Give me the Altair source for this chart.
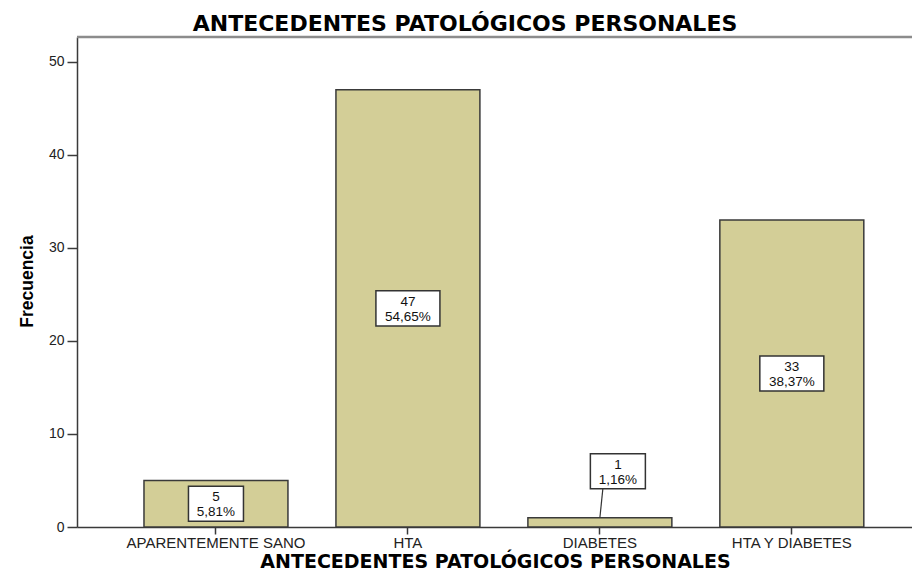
import altair as alt
import pandas as pd

# ---- data ----
categories = ["APARENTEMENTE SANO", "HTA", "DIABETES", "HTA Y DIABETES"]
counts = [5, 47, 1, 33]
y_ticks = [0, 10, 20, 30, 40, 50]
y_max = 52.67
chart_title = "ANTECEDENTES PATOLÓGICOS PERSONALES"
x_title = "ANTECEDENTES PATOLÓGICOS PERSONALES"
y_title = "Frecuencia"

# ---- derived table ----
total = sum(counts)
pct_labels = [f"{c / total * 100:.2f}".replace(".", ",") + "%" for c in counts]
inside = [c >= 4 for c in counts]
label_y = [c / 2 if ins else c + 5 for c, ins in zip(counts, inside)]


def box_path(text):
    hw = (10 + 9 * len(text)) / 64.0
    hh = 35 / 64.0
    return f"M{-hw:.4f},{-hh:.4f}L{hw:.4f},{-hh:.4f}L{hw:.4f},{hh:.4f}L{-hw:.4f},{hh:.4f}Z"


df = pd.DataFrame({
    "cat": categories,
    "count": counts,
    "label": [f"{c}\n{p}" for c, p in zip(counts, pct_labels)],
    "label_y": label_y,
    "inside": inside,
    "path": [box_path(p) for p in pct_labels],
})

W, H = 835, 490

xscale = alt.Scale(domain=categories, paddingInner=0.25, paddingOuter=0.3, align=0.5816)
yscale = alt.Scale(domain=[0, y_max], nice=False, zero=True)

xaxis = alt.Axis(
    title=x_title, labelAngle=0, tickSize=7, labelPadding=1,
    labelFont="Liberation Sans", labelFontSize=15, labelColor="#222222",
    domainColor="#3A3A3A", domainWidth=1.5, tickColor="#3A3A3A", tickWidth=1.5,
    titleFont="DejaVu Sans", titleFontSize=19, titleFontWeight="bold", titleColor="#000000",
    titleX=418, titleY=40, titleAlign="center", titleBaseline="alphabetic", titleAngle=0,
)
yaxis = alt.Axis(
    title=y_title, values=y_ticks, tickSize=10, labelPadding=3, grid=False,
    labelFont="Liberation Sans", labelFontSize=14, labelColor="#222222",
    domainColor="#3A3A3A", domainWidth=1.5, tickColor="#3A3A3A", tickWidth=1.5,
    titleFont="Liberation Sans", titleFontSize=17.5, titleFontWeight="bold", titleColor="#000000",
    titleX=-45, titleY=244, titleAngle=-90, titleAlign="center", titleBaseline="alphabetic",
)

X = alt.X("cat:N", sort=categories, scale=xscale, axis=xaxis)

base = alt.Chart(df)

bars = base.mark_bar(fill="#D3CE97", stroke="#3A3A3A", strokeWidth=1.5).encode(
    x=X, y=alt.Y("count:Q", scale=yscale, axis=yaxis)
)

frame = alt.Chart(pd.DataFrame({"a": [0]})).mark_rule(color="#8C8C8C", strokeWidth=2.5).encode(
    x=alt.value(0), x2=alt.value(W), y=alt.value(0)
)

title_mark = alt.Chart(pd.DataFrame({"t": [chart_title]})).mark_text(
    font="DejaVu Sans", fontSize=22, fontWeight="bold", color="#000000",
    align="center", baseline="alphabetic"
).encode(text="t:N", x=alt.value(388), y=alt.value(-6))

Ylab = alt.Y("label_y:Q", scale=yscale, axis=yaxis)

box_in = base.transform_filter("datum.inside").mark_point(
    filled=True, fill="white", stroke="#333333", strokeWidth=1.5, size=4096, opacity=1
).encode(x=X, y=Ylab, shape=alt.Shape("path:N", scale=None))

text_in = base.transform_filter("datum.inside").mark_text(
    lineBreak="\n", font="Liberation Sans", fontSize=13.5, lineHeight=15,
    align="center", baseline="alphabetic", dy=-2.5, color="#111111"
).encode(x=X, y=Ylab, text="label:N")

leader = base.transform_filter("!datum.inside").mark_rule(
    color="#333333", strokeWidth=1.2, x2Offset=3, y2Offset=17.5
).encode(x=X, x2="cat:N", y=alt.Y("count:Q", scale=yscale, axis=yaxis), y2="label_y:Q")

box_out = base.transform_filter("!datum.inside").mark_point(
    filled=True, fill="white", stroke="#333333", strokeWidth=1.5, size=4096, opacity=1, xOffset=18
).encode(x=X, y=Ylab, shape=alt.Shape("path:N", scale=None))

text_out = base.transform_filter("!datum.inside").mark_text(
    lineBreak="\n", font="Liberation Sans", fontSize=13.5, lineHeight=15,
    align="center", baseline="alphabetic", dy=-2.5, color="#111111", xOffset=18
).encode(x=X, y=Ylab, text="label:N")

chart = alt.layer(bars, frame, leader, box_in, text_in, box_out, text_out, title_mark).properties(
    width=W, height=H,
    autosize=alt.AutoSizeParams(type="none"),
    padding={"left": 69, "top": 29, "right": 0, "bottom": 46},
).configure_view(fill="#F0F0F0", strokeWidth=0).configure(background="white")

chart.save("out.html", embed_options={"renderer": "svg", "actions": False})
